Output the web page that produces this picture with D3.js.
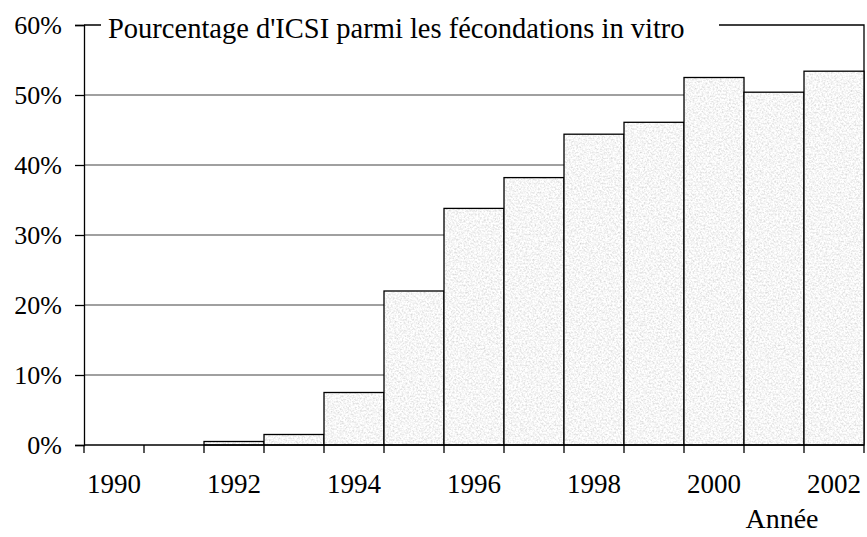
<!DOCTYPE html>
<html>
<head>
<meta charset="utf-8">
<script src="https://cdn.jsdelivr.net/npm/d3@7"></script>
<style>
  body { margin: 0; background: #fff; }
  svg text { font-family: "Liberation Serif", "Times New Roman", serif; fill: #000; }
</style>
</head>
<body>
<div id="chart"></div>
<script>
const years = [1990, 1991, 1992, 1993, 1994, 1995, 1996, 1997, 1998, 1999, 2000, 2001, 2002];
const icsiShare = [0, 0, 0.005, 0.015, 0.075, 0.22, 0.338, 0.382, 0.444, 0.461, 0.525, 0.504, 0.534];
const yTicks = [0, 0.1, 0.2, 0.3, 0.4, 0.5, 0.6];
const yearLabels = [1990, 1992, 1994, 1996, 1998, 2000, 2002];
const title = "Pourcentage d'ICSI parmi les fécondations in vitro";
const xTitle = "Année";

const draw = (ref, totalWidth, totalHeight) => {
  const margin = { top: 25, right: 2, bottom: 92, left: 84 },
    width = totalWidth - margin.left - margin.right,
    height = totalHeight - margin.top - margin.bottom;

  const root = d3
    .select(ref)
    .append("svg")
    .attr("width", totalWidth)
    .attr("height", totalHeight);

  // speckled grey fill like the original
  const defs = root.append("defs");
  const filter = defs.append("filter").attr("id", "grain")
    .attr("x", 0).attr("y", 0).attr("width", "100%").attr("height", "100%");
  filter.append("feTurbulence")
    .attr("type", "fractalNoise")
    .attr("baseFrequency", 0.55)
    .attr("numOctaves", 3)
    .attr("seed", 7);
  filter.append("feColorMatrix")
    .attr("type", "matrix")
    .attr("values", "0.6 0 0 0 0.62  0.6 0 0 0 0.62  0.6 0 0 0 0.62  0 0 0 0 1");
  const pattern = defs.append("pattern").attr("id", "speckle")
    .attr("patternUnits", "userSpaceOnUse")
    .attr("width", 300).attr("height", 300);
  pattern.append("rect").attr("width", 300).attr("height", 300)
    .attr("filter", "url(#grain)");

  const svg = root.append("g")
    .attr("transform", "translate(" + margin.left + "," + margin.top + ")");

  const x = d3.scaleBand().domain(years).range([0, width - 1]).padding(0);
  const y = d3.scaleLinear().domain([0, 0.6]).range([height, 0]);

  // gridlines
  svg.append("g")
    .selectAll("line")
    .data(yTicks.filter((d) => d > 0 && d < 0.6))
    .join("line")
    .attr("x1", 0)
    .attr("x2", width - 1)
    .attr("y1", (d) => y(d))
    .attr("y2", (d) => y(d))
    .attr("stroke", "#808080")
    .attr("stroke-width", 1.3);

  // frame top + right
  svg.append("path")
    .attr("d", `M0,${y(0.6)}H${width - 1}V${y(0)}`)
    .attr("fill", "none")
    .attr("stroke", "#000")
    .attr("stroke-width", 1.3);

  // bars
  svg.append("g")
    .selectAll("rect")
    .data(years.map((yr, i) => ({ yr, v: icsiShare[i] })).filter((d) => d.v > 0))
    .join("rect")
    .attr("x", (d) => x(d.yr))
    .attr("width", x.bandwidth())
    .attr("y", (d) => y(d.v))
    .attr("height", (d) => y(0) - y(d.v))
    .attr("fill", "url(#speckle)")
    .attr("stroke", "#000")
    .attr("stroke-width", 1.3);

  // y axis
  const yAxis = svg.append("g")
    .call(d3.axisLeft(y).tickValues(yTicks).tickFormat(d3.format(".0%"))
      .tickSize(9).tickPadding(13));
  yAxis.attr("font-family", null);
  yAxis.select(".domain").attr("stroke", "#000").attr("stroke-width", 1.3);
  yAxis.selectAll(".tick line").attr("stroke", "#000").attr("stroke-width", 1.3);
  yAxis.selectAll("text").attr("font-size", 26);

  // x axis: ticks on band edges, labels every two years
  const xg = svg.append("g").attr("transform", `translate(0,${height})`);
  xg.append("line")
    .attr("x1", 0).attr("x2", width - 1)
    .attr("stroke", "#000").attr("stroke-width", 1.5);
  xg.selectAll(".edge")
    .data(years.concat([years[years.length - 1] + 1]))
    .join("line")
    .attr("class", "edge")
    .attr("x1", (d, i) => i < years.length ? x(d) : x(years[i - 1]) + x.bandwidth())
    .attr("x2", (d, i) => i < years.length ? x(d) : x(years[i - 1]) + x.bandwidth())
    .attr("y1", 0).attr("y2", 8)
    .attr("stroke", "#000").attr("stroke-width", 1.3);
  xg.selectAll("text")
    .data(yearLabels)
    .join("text")
    .attr("x", (d) => x(d) + x.bandwidth() / 2)
    .attr("y", 48)
    .attr("text-anchor", "middle")
    .attr("font-size", 27)
    .text((d) => d);

  // axis title
  svg.append("text")
    .attr("x", 698)
    .attr("y", height + 83)
    .attr("text-anchor", "middle")
    .attr("font-size", 28)
    .text(xTitle);

  // chart title over the top frame
  const titleX = 24;
  svg.append("rect")
    .attr("x", titleX - 7)
    .attr("y", -14)
    .attr("width", 618)
    .attr("height", 30)
    .attr("fill", "#fff");
  svg.append("text")
    .attr("x", titleX)
    .attr("y", 13)
    .attr("font-size", 28.5)
    .text(title);
};

draw(document.getElementById("chart"), 867, 537);
</script>
</body>
</html>
